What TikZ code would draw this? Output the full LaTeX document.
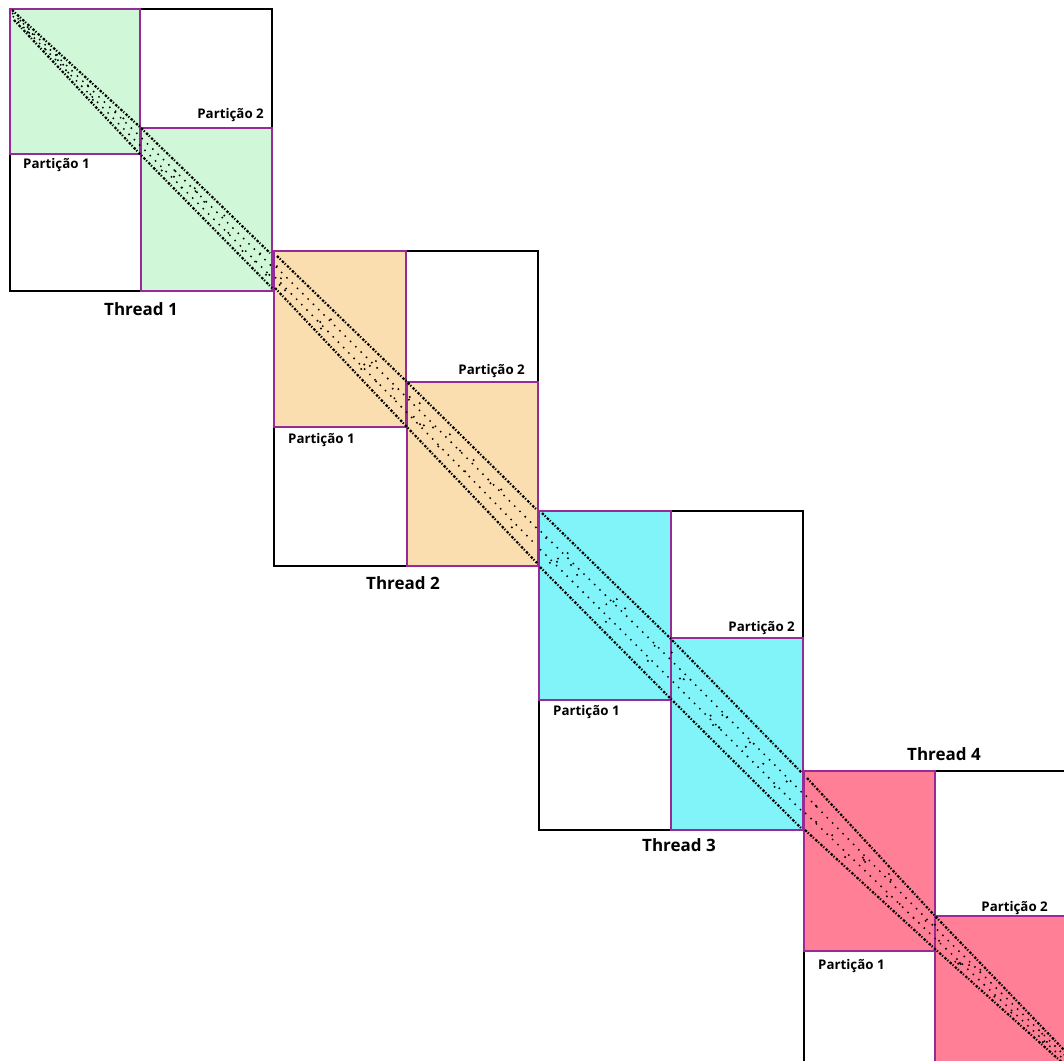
\documentclass[tikz,border=0pt]{standalone}
\usepackage{fontspec}
\setmainfont{Open Sans}
\usetikzlibrary{calc}
\definecolor{purp}{RGB}{152,42,152}
\definecolor{cgreen}{RGB}{208,248,216}
\definecolor{corange}{RGB}{251,222,176}
\definecolor{ccyan}{RGB}{128,244,248}
\definecolor{cpink}{RGB}{255,128,150}
\newcommand\segdots[5]{%
  \foreach \k in {1,...,#5}{%
    \pgfmathsetmacro\myt{rnd}%
    \pgfmathsetmacro\mys{0.18+0.64*rnd}%
    \coordinate (pa) at ($(#1)!\myt!(#2)$);
    \coordinate (pb) at ($(#3)!\myt!(#4)$);
    \fill ($(pa)!\mys!(pb)$) circle (1.1);
  }}
\begin{document}
\begin{tikzpicture}[x=1pt,y=-1pt,
  outer/.style={draw=black,line width=1.6pt},
  part/.style={draw=purp,line width=2pt},
  plabel/.style={font=\bfseries\fontsize{13.3}{15}\selectfont,inner sep=0pt},
  tlabel/.style={font=\bfseries\fontsize{17}{19}\selectfont,inner sep=0pt},
  dline/.style={line width=2.2pt,dash pattern=on 2.4pt off 1.4pt on 1.2pt off 2pt},
  sline/.style={line width=2.1pt,line cap=round,dash pattern=on 0pt off 7.5pt}]
\useasboundingbox (0,0) rectangle (1064,1060);
\clip (0,0) rectangle (1064,1060);
\pgfmathsetseed{7}

% ---------- Block 1 ----------
\draw[outer] (10,9) rectangle (272,291);
\path[part,fill=cgreen] (10,9) rectangle (140,154);
\path[part,fill=cgreen] (141,128) rectangle (272,291);
% ---------- Block 2 ----------
\draw[outer] (274,251) rectangle (538,566);
\path[part,fill=corange] (274,251) rectangle (406,427);
\path[part,fill=corange] (407,382) rectangle (538,566);
% ---------- Block 3 ----------
\draw[outer] (539,511) rectangle (803,830);
\path[part,fill=ccyan] (539,511) rectangle (671,700);
\path[part,fill=ccyan] (671,638) rectangle (803,830);
% ---------- Block 4 ----------
\draw[outer] (804,771) rectangle (1080,1080);
\path[part,fill=cpink] (804,771) rectangle (935,951);
\path[part,fill=cpink] (935,916) rectangle (1080,1080);

% ---------- sparsity bands ----------
\coordinate (u1s) at (12,10);  \coordinate (u1m) at (140,127); \coordinate (u1e) at (270,253);
\coordinate (l1s) at (14,20);  \coordinate (l1m) at (138,152); \coordinate (l1e) at (272,288);
\coordinate (u2s) at (277,256); \coordinate (u2m) at (406,381); \coordinate (u2e) at (537,510);
\coordinate (l2s) at (275,288); \coordinate (l2m) at (406,426); \coordinate (l2e) at (537,563);
\coordinate (u3s) at (542,513); \coordinate (u3m) at (669,637); \coordinate (u3e) at (802,773);
\coordinate (l3s) at (540,567); \coordinate (l3m) at (670,698); \coordinate (l3e) at (801,828);
\coordinate (u4s) at (807,778); \coordinate (u4m) at (935,916); \coordinate (u4e) at (1066,1052);
\coordinate (l4s) at (805,830); \coordinate (l4m) at (935,949); \coordinate (l4e) at (1066,1066);

\foreach \b in {1,2,3,4}{
  \draw[dline] (u\b s) -- (u\b m) -- (u\b e);
  \draw[dline] (l\b s) -- (l\b m) -- (l\b e);
  \draw[sline] ($(u\b s)!0.35!(l\b s)$) -- ($(u\b m)!0.35!(l\b m)$) -- ($(u\b e)!0.35!(l\b e)$);
  \draw[sline] ($(u\b s)!0.68!(l\b s)$) -- ($(u\b m)!0.68!(l\b m)$) -- ($(u\b e)!0.68!(l\b e)$);
  \segdots{u\b s}{u\b m}{l\b s}{l\b m}{14}
  \segdots{u\b m}{u\b e}{l\b m}{l\b e}{14}
}

% ---------- labels ----------
\node[plabel,anchor=base east] (b1p2) at (264,118) {Partição 2};
\node[plabel,anchor=base west] (b1p1) at (23,168) {Partição 1};
\node[tlabel] (t1) at (141,309) {Thread 1};
\node[plabel,anchor=base east] (b2p2) at (525,374) {Partição 2};
\node[plabel,anchor=base west] (b2p1) at (288,443) {Partição 1};
\node[tlabel] (t2) at (403,583) {Thread 2};
\node[plabel,anchor=base east] (b3p2) at (795,631) {Partição 2};
\node[plabel,anchor=base west] (b3p1) at (553,715) {Partição 1};
\node[tlabel] (t3) at (679,845) {Thread 3};
\node[tlabel] (t4) at (944,754) {Thread 4};
\node[plabel,anchor=base east] (b4p2) at (1048,911) {Partição 2};
\node[plabel,anchor=base west] (b4p1) at (818,969) {Partição 1};
\end{tikzpicture}
\end{document}
